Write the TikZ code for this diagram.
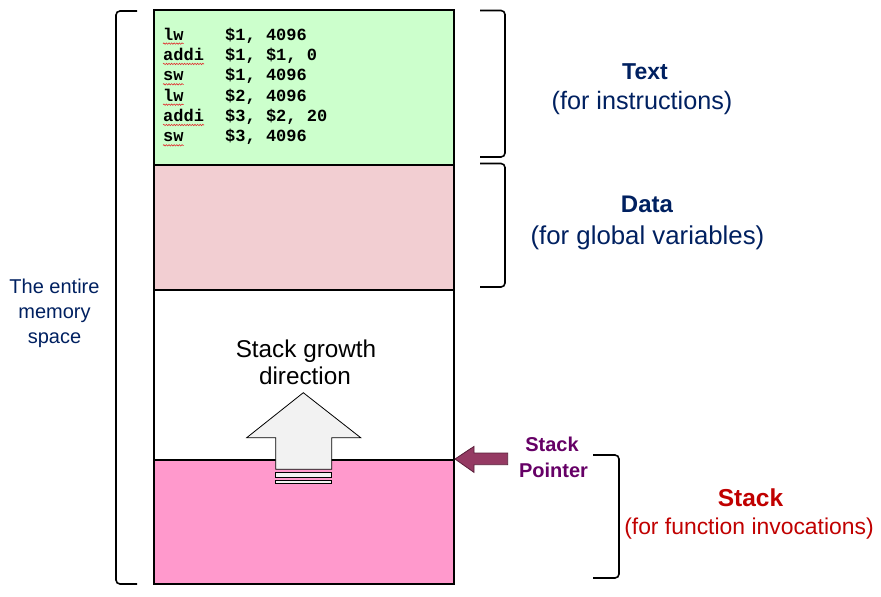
\documentclass[tikz,border=0pt]{standalone}
\usepackage{fontspec}
\setmainfont{Liberation Sans}
\newfontfamily\codefont{Liberation Mono}
\usetikzlibrary{decorations.pathmorphing}
\definecolor{textgreen}{HTML}{CCFFCC}
\definecolor{datapink}{HTML}{F2CED2}
\definecolor{stackpink}{HTML}{FF99CC}
\definecolor{navy}{HTML}{002060}
\definecolor{stackred}{HTML}{C00000}
\definecolor{sppurple}{HTML}{660066}
\definecolor{spfill}{HTML}{953A63}
\definecolor{spline}{HTML}{5A1F3A}
\definecolor{arrowgray}{HTML}{F2F2F2}
\definecolor{squigred}{HTML}{E03030}
\tikzset{
  region/.style={draw=black, line width=2pt, inner sep=0pt, minimum width=300pt, anchor=north west},
  brace/.style={draw=black, line width=1.6pt, rounded corners=4pt},
  code/.style={inner sep=0pt, anchor=base west, font=\codefont\bfseries\fontsize{17}{20}\selectfont},
  squig/.style={draw=squigred, line width=0.6pt, decorate, decoration={snake, amplitude=0.7pt, segment length=2.6pt}},
  lbl/.style={inner sep=0pt, anchor=base},
  fs/.style={font=\fontsize{#1}{#1}\selectfont},
  fsb/.style={font=\bfseries\fontsize{#1}{#1}\selectfont},
  growarrow/.style={fill=arrowgray, draw=black, line width=0.8pt},
}
\begin{document}
\begin{tikzpicture}[x=1pt,y=-1pt]
\useasboundingbox (0,0) rectangle (881,597);
% memory segments
\node[region, fill=textgreen, minimum height=155pt] (textseg) at (153,9) {};
\node[region, fill=datapink, minimum height=124.5pt] (dataseg) at (153,164) {};
\node[region, fill=white, minimum height=170.5pt] (freeseg) at (153,288.5) {};
\node[region, fill=stackpink, minimum height=124pt] (stackseg) at (153,459) {};
% code
\foreach \op/\arg [count=\i from 0] in {lw/{\$1, 4096}, addi/{\$1, \$1, 0}, sw/{\$1, 4096}, lw/{\$2, 4096}, addi/{\$3, \$2, 20}, sw/{\$3, 4096}}{
  \pgfmathsetmacro{\yy}{40+20.35*\i}
  \node[code] (op\i) at (163,\yy) {\op};
  \node[code] (arg\i) at (225,\yy) {\arg};
  \draw[squig] ([yshift=-3.6pt]op\i.base west) -- ([yshift=-3.6pt]op\i.base east);
}
% brackets
\draw[brace] (137,11) -- (116,11) -- (116,584) -- (137,584);
\draw[brace] (480,10.5) -- (505,10.5) -- (505,157) -- (480,157);
\draw[brace] (480,163.5) -- (505,163.5) -- (505,287) -- (480,287);
\draw[brace] (593,455) -- (619,455) -- (619,578) -- (593,578);
% labels
\node[lbl, fsb=23, text=navy] (textt) at (645,79) {Text};
\node[lbl, fs=25.2, text=navy] (texts) at (642,109) {(for instructions)};
\node[lbl, fsb=24, text=navy] (datat) at (647,212.5) {Data};
\node[lbl, fs=25.8, text=navy] (datas) at (647.5,244) {(for global variables)};
\node[lbl, fs=20, text=navy] (ent1) at (54.5,293.5) {The entire};
\node[lbl, fs=20, text=navy] (ent2) at (54.5,318.5) {memory};
\node[lbl, fs=20, text=navy] (ent3) at (54.5,343) {space};
\node[lbl, fs=24.3] (grow1) at (306,357.5) {Stack growth};
\node[lbl, fs=24.3] (grow2) at (305,384.5) {direction};
\node[lbl, fsb=20, text=sppurple] (sp1) at (552,451.7) {Stack};
\node[lbl, fsb=20, text=sppurple] (sp2) at (553.5,477) {Pointer};
\node[lbl, fsb=24.5, text=stackred] (stackt) at (750.5,506) {Stack};
\node[lbl, fs=22.9, text=stackred] (stacks) at (749,534.5) {(for function invocations)};
% growth arrow
\draw[growarrow] (303.3,392.7) -- (360.7,437.7) -- (331.7,437.7) -- (331.7,469.3)
  -- (275.7,469.3) -- (275.7,437.7) -- (246.7,437.7) -- cycle;
\draw[growarrow] (275.7,472) rectangle (331.7,477.3);
\draw[growarrow] (275.7,480) rectangle (331.7,483.3);
% stack pointer arrow
\coordinate (sptip) at (stackseg.north east);
\draw[fill=spfill, draw=spline, line width=0.8pt] (sptip) -- ++(19,-12.6) -- ++(0,6.6) -- ++(33.7,0)
  -- ++(0,11.7) -- ++(-33.7,0) -- ++(0,7.7) -- cycle;
\end{tikzpicture}
\end{document}
